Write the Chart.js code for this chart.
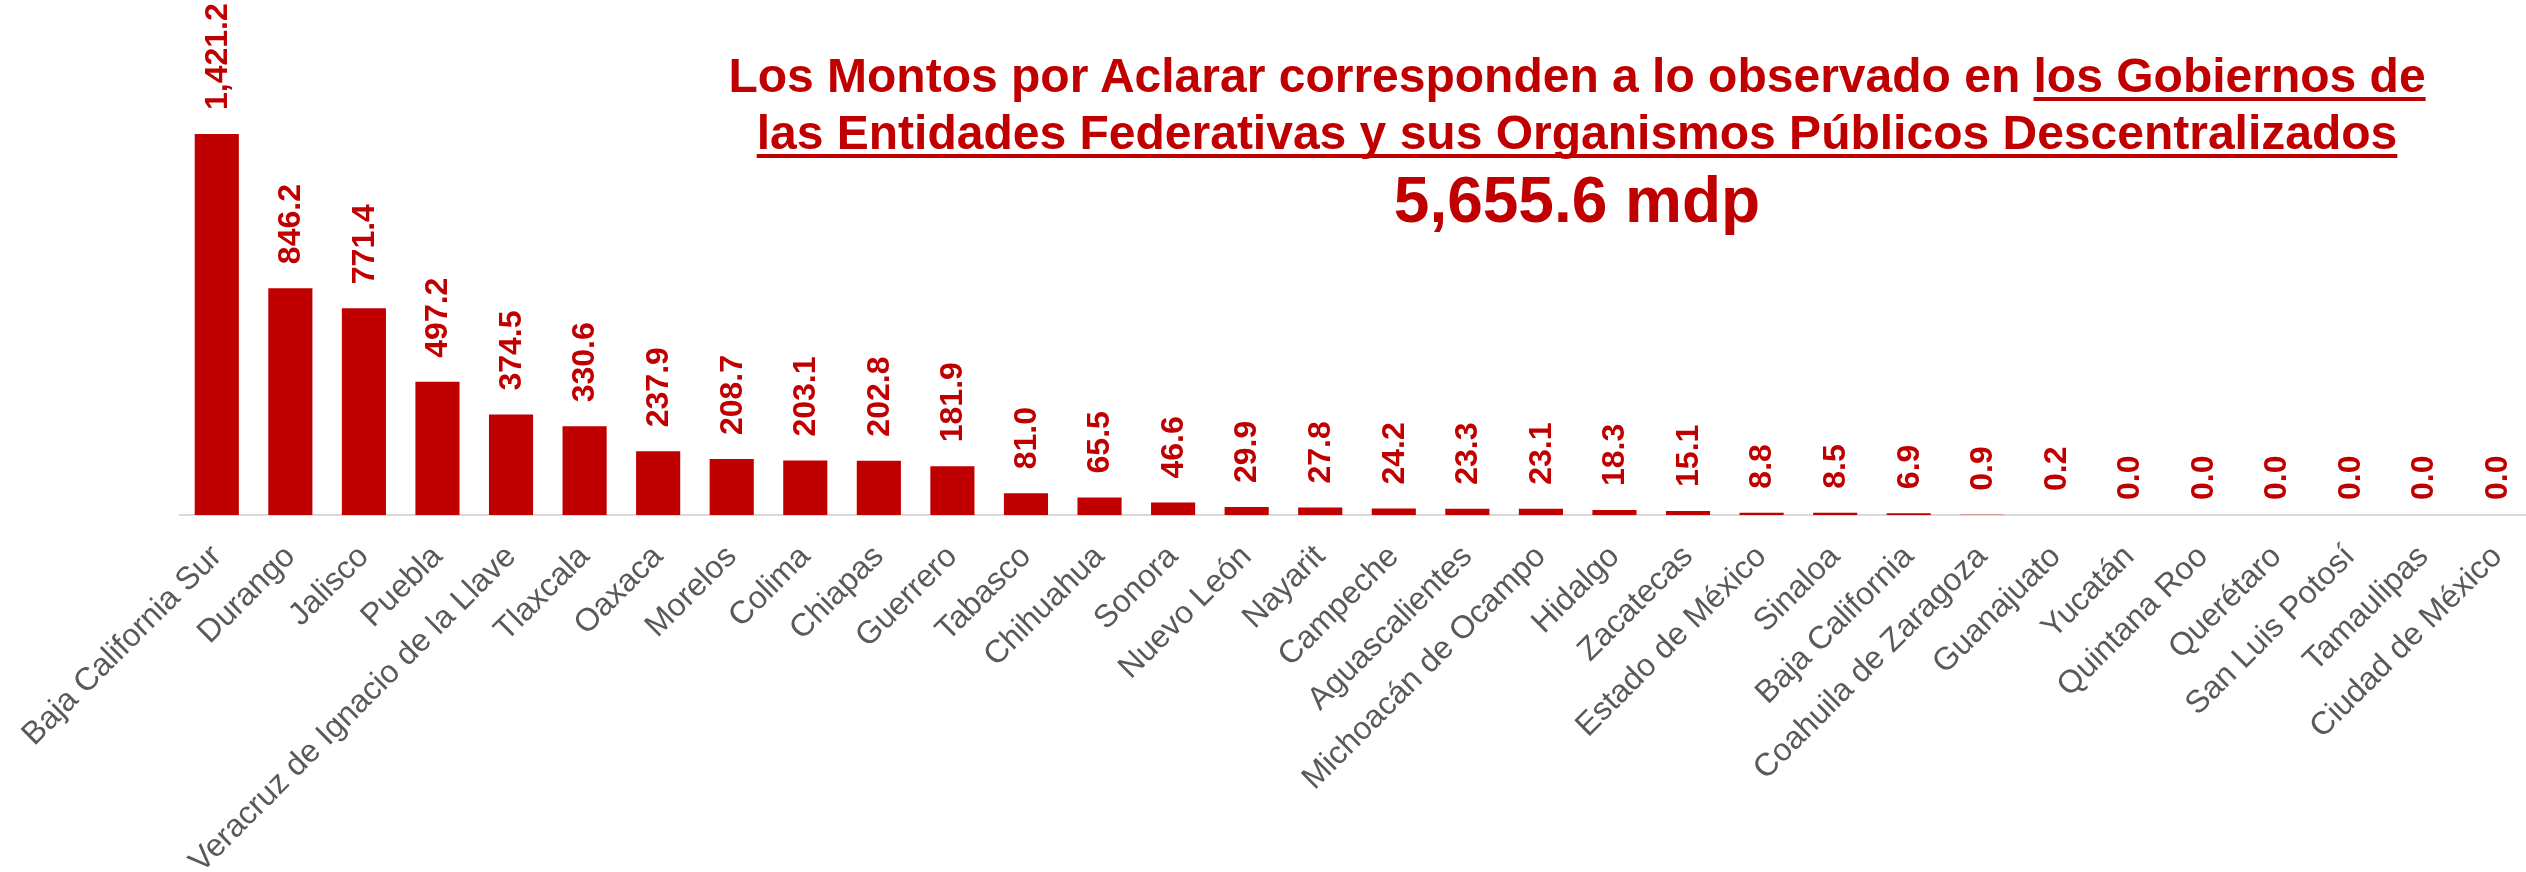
<!DOCTYPE html>
<html>
<head>
<meta charset="utf-8">
<script src="https://cdn.jsdelivr.net/npm/chart.js@4.4.1/dist/chart.umd.min.js"></script>
<style>
  html, body { margin: 0; padding: 0; background: #ffffff; overflow: hidden; }
  #wrap { position: absolute; left: 0; top: 0; width: 2534px; height: 872px; }
  .t { position: absolute; left: 0; width: 3154px; text-align: center; color: #C00000;
       font-family: "Liberation Sans", Arial, sans-serif; font-weight: bold; white-space: nowrap; }
  .l1, .l2 { font-size: 48px; line-height: 48px; }
  .l3 { font-size: 64px; line-height: 64px; }
  .u { text-decoration: underline; text-decoration-thickness: 4px; text-underline-offset: 5px; text-decoration-skip-ink: none; }
</style>
</head>
<body>
<div id="wrap"><canvas id="c"></canvas></div>
<div class="t l1" style="top:52px;">Los Montos por Aclarar corresponden a lo observado en <span class="u">los Gobiernos de</span></div>
<div class="t l2" style="top:109px;"><span class="u">las Entidades Federativas y sus Organismos Públicos Descentralizados</span></div>
<div class="t l3" style="top:168px;">5,655.6 mdp</div>
<script>
const categories = [
  "Baja California Sur", "Durango", "Jalisco", "Puebla", "Veracruz de Ignacio de la Llave",
  "Tlaxcala", "Oaxaca", "Morelos", "Colima", "Chiapas", "Guerrero", "Tabasco", "Chihuahua",
  "Sonora", "Nuevo León", "Nayarit", "Campeche", "Aguascalientes", "Michoacán de Ocampo",
  "Hidalgo", "Zacatecas", "Estado de México", "Sinaloa", "Baja California",
  "Coahuila de Zaragoza", "Guanajuato", "Yucatán", "Quintana Roo", "Querétaro",
  "San Luis Potosí", "Tamaulipas", "Ciudad de México"
];
const montos = [
  1421.2, 846.2, 771.4, 497.2, 374.5, 330.6, 237.9, 208.7, 203.1, 202.8, 181.9, 81.0, 65.5,
  46.6, 29.9, 27.8, 24.2, 23.3, 23.1, 18.3, 15.1, 8.8, 8.5, 6.9, 0.9, 0.2, 0.0, 0.0, 0.0,
  0.0, 0.0, 0.0
];
const RED = "#C00000";
const FONT = "'Liberation Sans', Arial, sans-serif";

const valueLabels = {
  id: "valueLabels",
  afterDatasetsDraw(chart) {
    const ctx = chart.ctx;
    const meta = chart.getDatasetMeta(0);
    ctx.save();
    ctx.fillStyle = RED;
    ctx.font = "bold 32px " + FONT;
    ctx.textAlign = "left";
    ctx.textBaseline = "middle";
    meta.data.forEach((bar, i) => {
      const v = chart.data.datasets[0].data[i];
      const txt = v.toLocaleString("en-US", { minimumFractionDigits: 1, maximumFractionDigits: 1 });
      const gap = v === 0 ? 15 : 24;
      ctx.save();
      ctx.translate(bar.x + 1, bar.y - gap);
      ctx.rotate(-Math.PI / 2);
      ctx.fillText(txt, 0, 0);
      ctx.restore();
    });
    ctx.restore();
  }
};

new Chart(document.getElementById("c"), {
  type: "bar",
  data: {
    labels: categories,
    datasets: [{
      data: montos,
      backgroundColor: RED,
      borderWidth: 0,
      barPercentage: 0.6,
      categoryPercentage: 1.0
    }]
  },
  options: {
    responsive: true,
    maintainAspectRatio: false,
    animation: false,
    layout: { padding: { left: 180, right: 0, top: 0, bottom: 0 } },
    plugins: { legend: { display: false }, tooltip: { enabled: false }, title: { display: false } },
    scales: {
      y: { display: false, min: 0, max: 1921 },
      x: {
        grid: { display: false, drawTicks: false },
        border: { display: true, color: "#D9D9D9", width: 2 },
        ticks: {
          color: "#595959",
          font: { family: FONT, size: 32 },
          minRotation: 45, maxRotation: 45,
          autoSkip: false,
          padding: 23
        },
        afterFit(s) { s.height = 357; s.paddingLeft = 0; s.paddingRight = 0; }
      }
    }
  },
  plugins: [valueLabels]
});
</script>
</body>
</html>
